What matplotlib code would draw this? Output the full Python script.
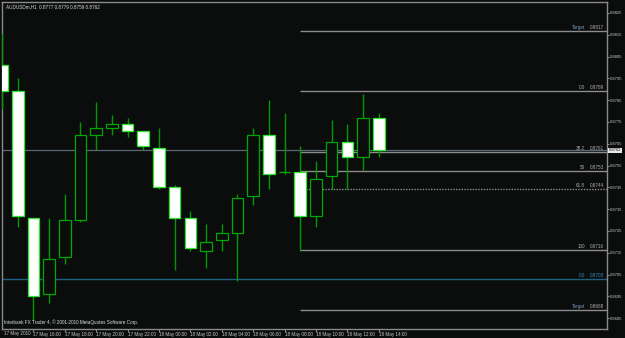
import matplotlib
matplotlib.use("Agg")
import matplotlib.pyplot as plt
from matplotlib.patches import Rectangle

plt.rcParams["font.family"] = ["Liberation Sans", "DejaVu Sans"]

# ---- data (AUDUSDm H1, 17 May 14:00 .. 18 May 14:00) ----
opens  = [0.8801, 0.8789, 0.8731, 0.8696, 0.8713, 0.8730, 0.8769, 0.8772, 0.8774, 0.8771,
          0.8763, 0.8745, 0.8731, 0.8716, 0.8721, 0.8724, 0.8741, 0.8769, 0.8752, 0.8752,
          0.8732, 0.8750, 0.8766, 0.8759, 0.8777]
highs  = [0.8816, 0.8795, 0.8731, 0.8731, 0.8742, 0.8775, 0.8784, 0.8778, 0.8777, 0.8771,
          0.8772, 0.8746, 0.8734, 0.8728, 0.8728, 0.8742, 0.8772, 0.8785, 0.8779, 0.8764,
          0.8757, 0.8776, 0.8774, 0.8788, 0.8779]
lows   = [0.8781, 0.8727, 0.8684, 0.8692, 0.8710, 0.8729, 0.8762, 0.8769, 0.8768, 0.8762,
          0.8744, 0.8707, 0.8716, 0.8708, 0.8716, 0.8702, 0.8737, 0.8744, 0.8751, 0.8716,
          0.8727, 0.8744, 0.8744, 0.8753, 0.8759]
closes = [0.8789, 0.8732, 0.8695, 0.8712, 0.8730, 0.8769, 0.8772, 0.8774, 0.8771, 0.8764,
          0.8745, 0.8731, 0.8717, 0.8720, 0.8724, 0.8740, 0.8769, 0.8751, 0.8752, 0.8732,
          0.8749, 0.8766, 0.8759, 0.8777, 0.8762]

time_ticks = [2, 4, 6, 8, 10, 12, 14, 16, 18, 20, 22, 24]
time_labels = ["17 May 16:00", "17 May 18:00", "17 May 20:00", "17 May 22:00",
               "18 May 00:00", "18 May 02:00", "18 May 04:00", "18 May 06:00",
               "18 May 08:00", "18 May 10:00", "18 May 12:00", "18 May 14:00"]
first_date = "17 May 2010"

price_ticks = [0.8685, 0.8695, 0.8705, 0.8715, 0.8725, 0.8735, 0.8745, 0.8755,
               0.8765, 0.8775, 0.8785, 0.8795, 0.8805, 0.8815, 0.8825]

fib_levels = [0.88167, 0.87892, 0.8761, 0.87525, 0.8744, 0.87162, 0.87028, 0.86885]
fib_names  = ["Target", "0.0", "38.2", "50", "61.8", "100", "0.0", "Target"]
fib_values = ["0.8817", "0.8789", "0.8761", "0.8753", "0.8744", "0.8716", "0.8703", "0.8688"]
fib_start = 19

current_price = 0.8762
title = "AUDUSDm,H1  0.8777 0.8779 0.8759 0.8762"
footer = "Interbank FX Trader 4, \u00a9 2001-2010 MetaQuotes Software Corp."

# ---- style ----
BG = "#0a0d0c"
WICK = "#009a00"
EDGE_BULL = "#00a800"
EDGE_BEAR = "#2ee82e"
TXT = "#c8c8c8"
FIB = "#8c8c8c"
BLUE = "#1c5f80"
FS = 3.3
FSY = 3.0

fig = plt.figure(figsize=(6.25, 3.38), dpi=100, facecolor=BG)
ax = fig.add_axes([2/625, 9/338, 605/625, 327/338])
ax.set_facecolor(BG)
XMAX = 38.54
ax.set_xlim(0.0, XMAX)
ax.set_ylim(0.8680, 0.8830)

w = 0.74
for i, (o, h, l, c) in enumerate(zip(opens, highs, lows, closes)):
    ax.vlines(i, l, h, color=WICK, lw=1.0, zorder=3)
    bear = c < o
    lo, hi = min(o, c), max(o, c)
    if hi - lo < 1e-9:
        ax.hlines(o, i - w/2, i + w/2, color=EDGE_BULL, lw=1.0, zorder=4)
    else:
        ax.add_patch(Rectangle((i - w/2, lo), w, hi - lo,
                               facecolor="white" if bear else BG,
                               edgecolor=EDGE_BEAR if bear else EDGE_BULL,
                               lw=0.9, zorder=4))

# current price line
ax.axhline(current_price, color="#5a6878", lw=0.9, zorder=2)

# fibonacci / target lines
for k, (lev, nm, val) in enumerate(zip(fib_levels, fib_names, fib_values)):
    is_blue = (nm == "0.0" and k == 6)
    col = BLUE if is_blue else FIB
    ls = (0, (1, 1)) if nm == "61.8" else "-"
    if is_blue:
        ax.axhline(lev, color=col, lw=1.0, zorder=2)
    else:
        ax.hlines(lev, fib_start, XMAX, color=col, lw=1.0, linestyles=ls, zorder=2)
    tcol = "#3a8fc0" if is_blue else "#b0b0b0"
    ncol = "#7f9fc0" if nm == "Target" else tcol
    ax.annotate(val, xy=(1.0, lev), xycoords=("axes fraction", "data"),
                xytext=(-3, 1), textcoords="offset pixels",
                fontsize=FS, color=tcol, ha="right", va="bottom", zorder=5)
    ax.annotate(nm, xy=(1.0, lev), xycoords=("axes fraction", "data"),
                xytext=(-22, 1), textcoords="offset pixels",
                fontsize=FS, color=ncol, ha="right", va="bottom", zorder=5)

# axes styling
for s in ax.spines.values():
    s.set_color("#8a8a8a")
    s.set_linewidth(1.0)
ax.yaxis.tick_right()
ax.set_yticks(price_ticks)
ax.set_yticklabels([f"{p:.4f}" for p in price_ticks])
ax.tick_params(axis="y", colors="#8a8a8a", labelcolor=TXT, labelsize=FSY,
               length=1.6, width=0.8, pad=0.6)
ax.set_xticks(time_ticks)
ax.set_xticklabels(time_labels)
ax.tick_params(axis="x", colors="#8a8a8a", labelcolor=TXT, labelsize=FS,
               length=2, width=0.8, pad=0.3)
for lbl in ax.get_xticklabels():
    lbl.set_horizontalalignment("left")
ax.annotate(first_date, xy=(0.0, 0.0), xycoords="axes fraction",
            xytext=(2, -2.5), textcoords="offset pixels",
            fontsize=FS, color=TXT, ha="left", va="top", annotation_clip=False)

# current price box
ax.annotate(f"{current_price:.4f}", xy=(1.0, current_price),
            xycoords=("axes fraction", "data"), xytext=(2, 0),
            textcoords="offset pixels", fontsize=FSY, color="#0a0a0a",
            ha="left", va="center", annotation_clip=False,
            bbox=dict(boxstyle="square,pad=0.15", facecolor="#e8e8e8", edgecolor="none"))

ax.text(0.006, 0.993, title, transform=ax.transAxes, fontsize=FS,
        color="#e0e0e0", ha="left", va="top")
ax.text(0.004, 0.012, footer, transform=ax.transAxes, fontsize=FS,
        color="#e0e0e0", ha="left", va="bottom")

fig.savefig("out.png", dpi=100, facecolor=BG)
